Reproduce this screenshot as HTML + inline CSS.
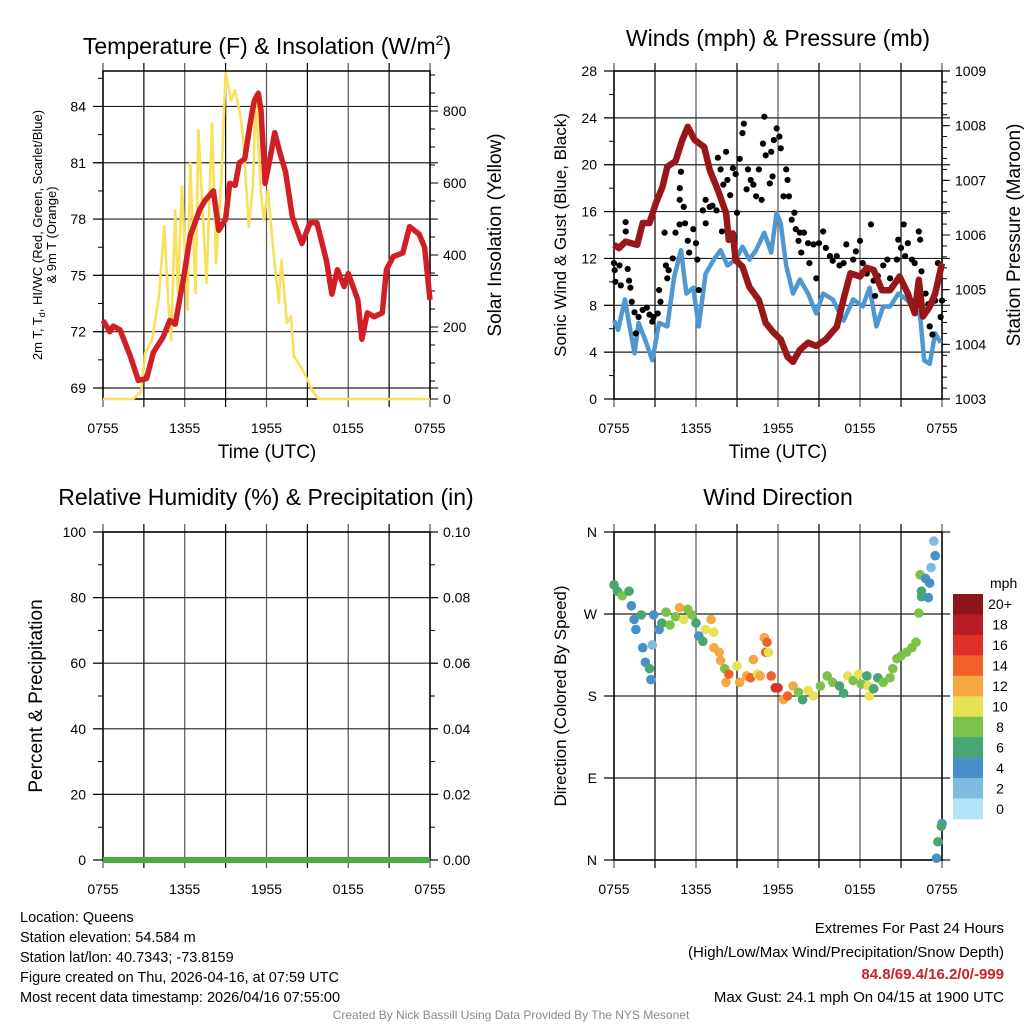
<!DOCTYPE html>
<html><head><meta charset="utf-8">
<style>
html,body{margin:0;padding:0;background:#fff;}
svg{display:block;font-family:"Liberation Sans",Arial,sans-serif;}
</style></head>
<body>
<svg id="fig" width="1024" height="1024" viewBox="0 0 1024 1024" xmlns="http://www.w3.org/2000/svg">
<rect width="1024" height="1024" fill="#fff"/>
<g id="layer"></g>
<text x="267" y="54" font-size="23" text-anchor="middle">Temperature (F) &amp; Insolation (W/m<tspan font-size="14" dy="-9">2</tspan><tspan dy="9">)</tspan></text>
<text x="778" y="46" font-size="23" text-anchor="middle">Winds (mph) &amp; Pressure (mb)</text>
<text x="266" y="505" font-size="23" text-anchor="middle">Relative Humidity (%) &amp; Precipitation (in)</text>
<text x="778" y="505" font-size="23" text-anchor="middle">Wind Direction</text>
<text x="267" y="458" font-size="19" text-anchor="middle">Time (UTC)</text>
<text x="778" y="458" font-size="19" text-anchor="middle">Time (UTC)</text>
<text transform="translate(42,235) rotate(-90)" font-size="13" text-anchor="middle">2m T, T<tspan font-size="9" dy="3">d</tspan><tspan dy="-3">, HI/WC (Red, Green, Scarlet/Blue)</tspan></text>
<text transform="translate(56,235) rotate(-90)" font-size="13" text-anchor="middle">&amp; 9m T (Orange)</text>
<text transform="translate(501,235) rotate(-90)" font-size="19" text-anchor="middle">Solar Insolation (Yellow)</text>
<text transform="translate(566,235) rotate(-90)" font-size="17" text-anchor="middle">Sonic Wind &amp; Gust (Blue, Black)</text>
<text transform="translate(1020,235) rotate(-90)" font-size="19" text-anchor="middle">Station Pressure (Maroon)</text>
<text transform="translate(42,696) rotate(-90)" font-size="19" text-anchor="middle">Percent &amp; Precipitation</text>
<text transform="translate(566,696) rotate(-90)" font-size="17" text-anchor="middle">Direction (Colored By Speed)</text>
<text x="990" y="588" font-size="14">mph</text>
<g font-size="14.5">
<text x="20" y="922">Location: Queens</text>
<text x="20" y="942">Station elevation: 54.584 m</text>
<text x="20" y="962">Station lat/lon: 40.7343; -73.8159</text>
<text x="20" y="982">Figure created on Thu, 2026-04-16, at 07:59 UTC</text>
<text x="20" y="1002">Most recent data timestamp: 2026/04/16 07:55:00</text>
</g>
<g font-size="15" text-anchor="end">
<text x="1004" y="933">Extremes For Past 24 Hours</text>
<text x="1004" y="957">(High/Low/Max Wind/Precipitation/Snow Depth)</text>
<text x="1004" y="979" fill="#c8222a" font-weight="bold">84.8/69.4/16.2/0/-999</text>
<text x="1004" y="1002">Max Gust: 24.1 mph On 04/15 at 1900 UTC</text>
</g>
<text x="511" y="1019" font-size="12" fill="#8a8a8a" text-anchor="middle">Created By Nick Bassill Using Data Provided By The NYS Mesonet</text>
</svg>
<script>
// ---- data (hours since 0755 UTC) ----
const xTickLabels = ["0755","1355","1955","0155","0755"];
const tempHours = [0,0.5,0.74,1.25,2,2.6,3.2,3.7,4.4,4.9,5.3,5.9,6.4,7.1,7.5,8.1,8.5,9.0,9.3,9.7,10.0,10.4,10.8,11.1,11.4,11.6,11.9,12.2,12.6,13.0,13.4,13.9,14.6,15.2,15.7,16.4,16.8,17.2,17.7,18.0,18.7,19.0,19.4,19.9,20.5,20.8,21.3,22.0,22.5,23.2,23.6,24.0];
const tempValues = [72.6,72.0,72.3,72.1,70.7,69.4,69.5,70.9,71.7,72.6,72.4,74.8,77.1,78.5,79.0,79.5,77.4,78.0,79.9,79.8,81.0,81.2,83.1,84.3,84.7,83.8,79.9,81.0,82.6,81.5,80.5,78.1,76.7,77.8,77.8,75.8,74.0,75.3,74.4,75.1,73.7,71.6,73.0,72.8,73.0,75.3,76.0,76.2,77.6,77.2,76.5,73.7];
const solarHours = [0,2.2,2.8,3.1,3.6,4.1,4.5,4.8,5.0,5.3,5.5,5.8,6.2,6.4,6.8,7.0,7.4,7.6,8.0,8.3,8.7,9.0,9.4,9.7,10.1,10.3,10.7,11.0,11.2,11.6,11.8,12.1,12.5,12.9,13.1,13.5,13.8,14.0,14.5,15.0,15.4,15.8,24];
const solarValues = [0,0,20,128,164,284,479,267,164,525,294,590,247,655,294,747,460,322,766,377,618,905,830,858,784,720,479,590,840,571,497,580,414,267,386,211,230,119,91,54,22,0,0];
const tempTicks = [69,72,75,78,81,84];
const solarTicks = [0,200,400,600,800];

const windHours = [0,0.3,0.8,1.1,1.5,1.8,2.3,2.8,3.3,3.9,4.4,4.9,5.3,5.8,6.2,6.7,7.3,7.8,8.3,8.9,9.4,9.9,10.4,11.0,11.5,11.9,12.2,12.6,13.1,13.6,14.2,14.8,15.3,16.0,16.8,17.5,18.2,18.7,19.2,19.7,20.2,20.8,21.4,22.0,22.4,22.7,23.1,23.5,23.9];
const windValues = [6.7,5.9,8.5,6.5,3.9,6.5,5.0,3.3,6.5,6.2,10.4,12.7,9.0,9.5,6.2,10.7,11.9,12.7,11.4,11.9,13.0,11.9,12.7,14.2,12.5,15.9,15.0,11.4,9.0,10.2,9.0,7.3,9.0,8.5,6.7,8.5,7.9,9.5,6.2,7.9,7.9,9.0,8.5,7.7,7.1,3.3,3.0,5.6,4.8];
const gustHours = [0,0.05,0.4,0.1,0.5,0.85,0.86,1.0,1.1,1.2,1.3,1.5,1.6,1.8,2.1,2.4,2.6,2.8,2.9,3.2,3.3,3.4,3.7,3.8,3.9,4.0,4.3,4.5,4.8,4.81,4.82,4.9,5.1,5.2,5.4,5.5,5.8,6.0,6.1,6.2,6.5,6.7,6.71,7.0,7.2,7.5,7.6,7.8,7.9,8.0,8.2,8.3,8.5,8.7,8.9,9.0,9.2,9.4,9.5,9.7,9.8,10.0,10.2,10.4,10.6,10.8,10.9,11.0,11.1,11.4,11.5,11.6,11.7,11.9,12.1,12.2,12.4,12.6,12.7,12.8,13.0,13.2,13.3,13.5,13.6,13.7,13.9,14.2,14.3,14.6,14.8,15.0,15.3,15.5,15.8,16.0,16.3,16.5,16.8,17.0,17.3,17.5,17.7,18.0,18.2,18.5,18.8,19.0,19.1,19.3,19.7,20.0,20.2,20.7,20.8,21.0,21.2,21.3,21.5,21.8,22.0,22.3,22.4,22.5,22.8,23.0,23.1,23.3,23.5,23.7,23.9,24.0];
const gustValues = [11.6,11.0,11.4,10.0,9.7,15.1,14.3,11.1,10.1,9.5,8.3,7.4,5.6,7.0,7.6,7.8,7.2,6.6,7.0,7.3,9.3,8.3,14.2,11.4,10.3,11.0,12.0,14.2,14.9,17.0,18.0,19.4,16.4,15.0,13.5,12.5,14.5,13.3,11.9,9.3,16.1,17.0,15.0,16.4,16.5,16.1,20.6,19.6,14.3,18.3,21.1,18.7,17.4,19.7,19.2,15.9,20.5,22.7,23.5,17.9,19.6,18.7,18.3,17.3,19.6,17.0,21.8,24.1,20.8,18.4,21.1,19.0,22.1,23.1,22.4,21.4,17.3,19.6,18.7,17.3,15.3,15.9,14.5,13.5,14.2,12.5,14.2,13.3,11.6,13.2,10.3,13.3,14.3,12.9,12.2,11.8,12.2,11.4,11.6,13.2,10.7,11.9,12.6,13.5,11.6,10.7,14.9,10.1,8.8,10.5,11.4,11.9,10.3,11.9,13.6,12.9,14.9,12.2,13.3,11.9,11.6,14.3,13.6,10.9,9.0,8.1,6.2,5.5,8.4,11.6,7.0,8.4];
const presHours = [0,0.37,0.85,1.7,2.1,2.6,3.06,3.55,3.9,4.5,5.0,5.4,5.9,6.6,7.0,7.6,8.2,8.4,8.7,8.9,9.4,9.9,10.6,11.1,11.7,12.2,12.7,13.1,13.6,14.2,14.8,15.5,16.3,16.9,17.3,18.0,18.5,19.0,19.6,20.2,20.9,21.5,22.0,22.3,22.6,23.1,23.5,24.0];
const presValues = [1005.82,1005.76,1005.88,1005.82,1006.22,1006.22,1006.58,1006.88,1007.25,1007.35,1007.74,1007.98,1007.74,1007.61,1007.19,1006.82,1006.40,1005.91,1006.03,1005.54,1005.42,1005.05,1004.81,1004.39,1004.21,1004.09,1003.77,1003.68,1003.90,1004.03,1003.97,1004.09,1004.32,1004.93,1005.30,1005.24,1005.40,1005.36,1004.99,1004.99,1005.24,1004.93,1004.57,1005.18,1004.51,1004.69,1004.93,1005.48];
const windTicks = [0,4,8,12,16,20,24,28];
const presTicks = [1003,1004,1005,1006,1007,1008,1009];

const rhHours = [0,24];
const rhValues = [0,0];
const rhTicks = [0,20,40,60,80,100];
const precipTicks = ["0.00","0.02","0.04","0.06","0.08","0.10"];

const dirHours = [0,0.25,0.6,1.1,1.27,1.47,1.6,2.0,2.1,2.3,2.6,2.7,2.8,2.9,3.3,3.5,3.8,4.1,4.5,4.8,5.1,5.4,5.7,6.0,6.2,6.5,6.7,7.1,7.3,7.31,7.7,7.8,8.1,8.2,8.4,9.0,9.2,9.7,10.0,10.2,10.5,10.7,11.0,11.1,11.2,11.3,11.5,11.8,12.0,12.4,12.7,13.1,13.5,13.8,14.2,14.6,15.1,15.6,16.0,16.5,16.8,17.1,17.5,17.9,18.1,18.5,18.6,18.7,19.0,19.3,19.7,20.2,20.4,20.7,21.0,21.4,21.8,22.1,22.3,22.5,22.51,22.4,22.8,23.1,23.0,23.2,23.5,23.4,24.0,23.95,23.7,23.6];
const dirValues = [302,295,290,295,279,264,253,269,233,217,210,198,236,269,253,260,272,258,267,277,264,275,269,260,246,240,253,264,250,233,228,219,210,195,204,213,195,202,200,220,204,202,244,228,239,228,202,189,189,176,180,191,184,176,186,180,191,202,195,191,183,202,197,204,193,202,191,180,188,200,195,200,210,221,224,228,233,239,271,295,289,313,309,304,288,321,334,350,40,37,20,2];
const dirSpeeds = [6,6,8,6,4,4,4,6,4,4,6,4,2,4,4,6,8,8,8,12,10,8,8,6,4,6,10,12,10,12,12,12,8,12,14,10,12,12,14,12,10,12,12,14,14,10,14,16,16,12,14,12,8,6,10,10,8,8,8,6,6,10,8,10,8,6,10,10,6,6,8,8,8,8,8,8,8,8,8,6,6,8,4,4,4,2,4,2,4,6,6,4];
const cbLabels = ["20+","18","16","14","12","10","8","6","4","2","0"];
const cbColors = ["#8e161b","#b81c24","#dc3129","#f06229","#f6a843","#e8e055","#7cc24a","#48a672","#4a90c8","#7dbbe3","#b5e3f8"];
const dirTickLabels = ["N","W","S","E","N"];
const dirTickValues = [360,270,180,90,0];

// ---- drawing ----
const NS = "http://www.w3.org/2000/svg";
const layer = document.getElementById('layer');
function el(tag, attrs, parent){const e=document.createElementNS(NS,tag);for(const k in attrs)e.setAttribute(k,attrs[k]);(parent||layer).appendChild(e);return e;}

function panel(name, x0, y0, x1, y1){
  const g = el('g',{});
  
  
  return {g,x0,y0,x1,y1,
    sx:h=>x0+(x1-x0)*h/24};
}

function drawGridAndFrame(p, yGridVals, ys){
  for(let i=0;i<=8;i++){
    const x=p.sx(i*3);
    const l=el('line',{x1:x,y1:p.y0-8,x2:x,y2:p.y1+8,stroke:(i%2?'#000':'#555'),'stroke-width':1.2},p.g);
    
    
  }
  yGridVals.forEach(v=>{
    const y=ys(v);
    const l=el('line',{x1:p.x0-10,y1:y,x2:p.x1+8,y2:y,stroke:'#222','stroke-width':1.2},p.g);
    
    
  });
  const r=el('rect',{x:p.x0,y:p.y0,width:p.x1-p.x0,height:p.y1-p.y0,fill:'none',stroke:'#000','stroke-width':1.5},p.g);
  
  
  xTickLabels.forEach((t,i)=>{
    const tx=el('text',{x:p.sx(i*6),y:p.y1+34,'font-size':14,'text-anchor':'middle'},p.g);
    tx.textContent=t;
    
    
  });
}
function leftTicks(p, vals, labels, ys, minorVals){
  vals.forEach((v,i)=>{
    const y=ys(v);
    el('line',{x1:p.x0-10,y1:y,x2:p.x0,y2:y,stroke:'#000','stroke-width':1},p.g);
    const t=el('text',{x:p.x0-17,y:y+5,'font-size':14,'text-anchor':'end'},p.g);
    t.textContent=labels[i];
    
    
  });
  (minorVals||[]).forEach(v=>{const y=ys(v);el('line',{x1:p.x0-5,y1:y,x2:p.x0,y2:y,stroke:'#000','stroke-width':1},p.g);});
}
function rightTicks(p, vals, labels, ys, minorVals){
  vals.forEach((v,i)=>{
    const y=ys(v);
    el('line',{x1:p.x1,y1:y,x2:p.x1+8,y2:y,stroke:'#000','stroke-width':1},p.g);
    const t=el('text',{x:p.x1+13,y:y+5,'font-size':14,'text-anchor':'start'},p.g);
    t.textContent=labels[i];
    
    
  });
  (minorVals||[]).forEach(v=>{const y=ys(v);el('line',{x1:p.x1,y1:y,x2:p.x1+5,y2:y,stroke:'#000','stroke-width':1},p.g);});
}
function range(a,b,s){const r=[];for(let v=a;v<=b+1e-9;v+=s)r.push(+v.toFixed(4));return r;}
function pathFrom(hs, vs, sx, sy){return hs.map((h,i)=>(i?'L':'M')+sx(h).toFixed(1)+','+sy(vs[i]).toFixed(1)).join('');}

// Panel 1: temperature
(function(){
  const p=panel('temperature-panel',103,71,430,399);
  const yT=v=>388-(v-69)*18.77;
  const yS=v=>399-v*0.36;
  drawGridAndFrame(p,tempTicks,yT);
  leftTicks(p,tempTicks,tempTicks.map(String),yT,range(67.5,85.5,1.5).filter(v=>yT(v)>=p.y0&&yT(v)<=p.y1));
  rightTicks(p,solarTicks,solarTicks.map(String),yS,range(0,900,50));
  const s=el('path',{d:pathFrom(solarHours,solarValues,p.sx,v=>Math.max(p.y0,yS(v))),fill:'none',stroke:'#f8e05a','stroke-width':2.6,'stroke-linejoin':'round'},p.g);
  
  
  const t=el('path',{d:pathFrom(tempHours,tempValues,p.sx,yT),fill:'none',stroke:'#d21f26','stroke-width':5.5,'stroke-linejoin':'round'},p.g);
  
  
})();

// Panel 2: winds & pressure
(function(){
  const p=panel('wind-pressure-panel',614,71,942,399);
  const yW=v=>399-v*11.714;
  const yP=v=>399-(v-1003)*54.667;
  drawGridAndFrame(p,windTicks,yW);
  leftTicks(p,windTicks,windTicks.map(String),yW,range(2,26,4));
  rightTicks(p,presTicks,presTicks.map(String),yP,range(1003,1009,0.2));
  const w=el('path',{d:pathFrom(windHours,windValues,p.sx,yW),fill:'none',stroke:'#4f97d1','stroke-width':4.5,'stroke-linejoin':'round'},p.g);
  
  
  gustHours.forEach((h,i)=>{
    const c=el('circle',{cx:p.sx(h),cy:yW(gustValues[i]),r:3.1,fill:'#000'},p.g);
    
    
  });
  const pr=el('path',{d:pathFrom(presHours,presValues,p.sx,yP),fill:'none',stroke:'#97171b','stroke-width':6.5,'stroke-linejoin':'round'},p.g);
  
  
})();

// Panel 3: RH & precip
(function(){
  const p=panel('humidity-precip-panel',103,532,430,860);
  const yR=v=>860-v*3.28;
  drawGridAndFrame(p,rhTicks,yR);
  leftTicks(p,rhTicks,rhTicks.map(String),yR,range(10,90,20));
  rightTicks(p,rhTicks,precipTicks,yR,range(10,90,20));
  const r=el('path',{d:pathFrom(rhHours,rhValues,p.sx,yR),fill:'none',stroke:'#4aaa44','stroke-width':6},p.g);
  
  
})();

// Panel 4: wind direction
(function(){
  const p=panel('wind-direction-panel',614,532,942,860);
  const yD=v=>860-v/360*328;
  drawGridAndFrame(p,dirTickValues,yD);
  leftTicks(p,dirTickValues,dirTickLabels,yD,[]);
  function col(s){let i=Math.round(s/2);if(i>10)i=10;if(i<0)i=0;return cbColors[10-i];}
  dirHours.forEach((h,i)=>{
    const c=el('circle',{cx:p.sx(h),cy:yD(dirValues[i]),r:4.8,fill:col(dirSpeeds[i])},p.g);
    
    
  });
  const cb=el('g',{});
  
  
  const bh=(819-594)/11;
  cbColors.forEach((c,i)=>{
    el('rect',{x:953,y:594+i*bh,width:30,height:bh+0.3,fill:c},cb);
    const t=el('text',{x:1000,y:594+i*bh+bh/2+5,'font-size':14,'text-anchor':'middle'},cb);
    t.textContent=cbLabels[i];
    
    
  });
})();
</script>
</body></html>
